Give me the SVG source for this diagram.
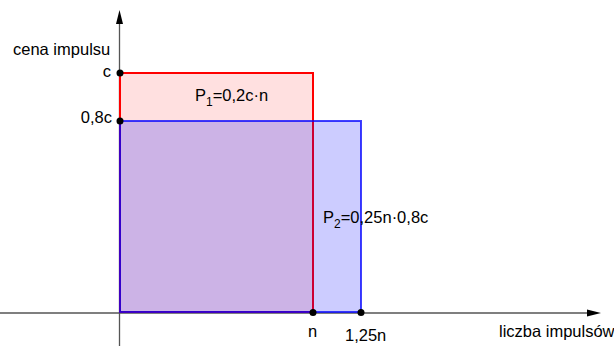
<svg xmlns="http://www.w3.org/2000/svg" width="614" height="346" viewBox="0 0 614 346">
<style>
text{font-family:"Liberation Sans",Arial,sans-serif;font-size:16.5px;fill:#000}
.sub{font-size:12px}
.axis{stroke:#555;stroke-width:1.3;fill:none}
.head{fill:#000;stroke:none}
.pt{fill:#000}
</style>
<rect width="614" height="346" fill="#fff"/>
<g id="axes">
<line class="axis" x1="0" y1="313" x2="589" y2="313"/>
<polygon class="head" points="601,313 587,309.5 587,316.5"/>
<line class="axis" x1="119.5" y1="346" x2="119.5" y2="22"/>
<polygon class="head" points="119.5,10 116,24 123,24"/>
</g>
<g id="rect-p1">
<rect x="120" y="73" width="193" height="239" fill="#ff0000" fill-opacity="0.12" stroke="#ff0000" stroke-width="2"/>
</g>
<g id="rect-p2">
<rect x="120" y="121" width="241" height="191" fill="#0000ff" fill-opacity="0.2" stroke="#0000ff" stroke-opacity="0.75" stroke-width="2"/>
</g>
<g id="points">
<circle class="pt" cx="120" cy="73" r="3.5"/>
<circle class="pt" cx="120" cy="121" r="3.5"/>
<circle class="pt" cx="313" cy="312.5" r="3.5"/>
<circle class="pt" cx="361" cy="312.5" r="3.5"/>
</g>
<g id="labels">
<text x="13" y="55">cena impulsu</text>
<text x="111" y="77" text-anchor="end">c</text>
<text x="112" y="123" text-anchor="end">0,8c</text>
<text x="195" y="101">P<tspan class="sub" dy="5">1</tspan><tspan dy="-5">=0,2c·n</tspan></text>
<text x="323" y="223">P<tspan class="sub" dy="5">2</tspan><tspan dy="-5">=0,25n·0,8c</tspan></text>
<text x="308" y="337">n</text>
<text x="345" y="341">1,25n</text>
<text x="499" y="337">liczba impulsów</text>
</g>
</svg>
